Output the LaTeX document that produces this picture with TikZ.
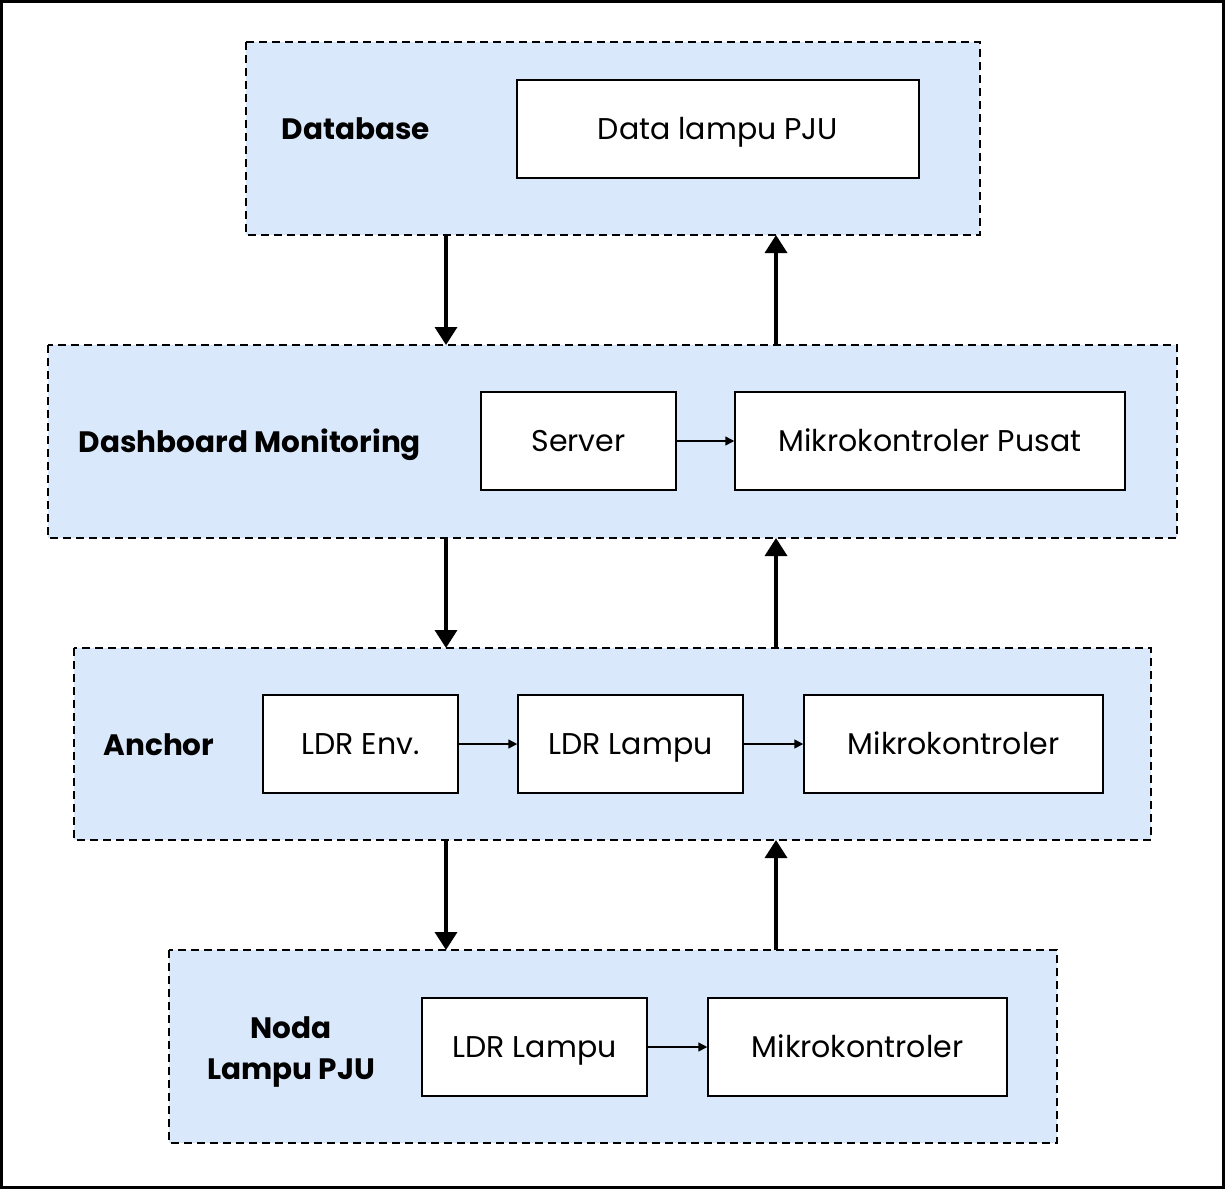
\documentclass[tikz,border=0pt]{standalone}
\usepackage{fontspec}
\setmainfont{Poppins}
\usetikzlibrary{arrows.meta}
\definecolor{groupfill}{HTML}{DAE8FC}
\tikzset{
  group/.style={draw=black, fill=groupfill, line width=1.5pt, dash pattern=on 8pt off 5pt},
  boxfont/.style={font=\fontsize{30}{34}\selectfont, text height=21pt, text depth=0pt},
  unit/.style={draw=black, fill=white, line width=1.5pt, boxfont},
  grouplabel/.style={font=\fontsize{29.5}{41}\selectfont\bfseries, align=center},
  capcentred/.style={text height=20.6pt, text depth=0pt},
  flow/.style={line width=3.5pt, -{Triangle[width=22pt,length=18pt]}},
  link/.style={line width=1.5pt, -{Triangle[width=9pt,length=9pt]}}
}
\begin{document}
\begin{tikzpicture}[x=1pt,y=-1pt]
\useasboundingbox (0,0) rectangle (1225,1189);
\draw[line width=3pt] (1.5,1.5) rectangle (1223.5,1187.5);

% Database layer
\path[group] (246,42) rectangle (980,235);
\coordinate (dbB1) at (446,235);
\coordinate (dbB2) at (776,235);
\node[grouplabel, capcentred] (dblabel) at (356,129) {Database};
\draw[unit] (517,80) rectangle (919,178);
\node[boxfont] (data) at (718,129) {Data lampu PJU};

% Dashboard layer
\path[group] (48,345) rectangle (1177,538);
\coordinate (dsT1) at (446,345);
\coordinate (dsT2) at (776,345);
\coordinate (dsB1) at (446,538);
\coordinate (dsB2) at (776,538);
\node[grouplabel, capcentred] (dslabel) at (250,442) {Dashboard Monitoring};
\node[unit, minimum width=195pt, minimum height=98pt] (server) at (578.5,441) {Server};
\node[unit, minimum width=390pt, minimum height=98pt] (mkpusat) at (930,441) {Mikrokontroler Pusat};
\draw[link] (server) -- (mkpusat);

% Anchor layer
\path[group] (74,648) rectangle (1151,840);
\coordinate (anT1) at (446,648);
\coordinate (anT2) at (776,648);
\coordinate (anB1) at (446,840);
\coordinate (anB2) at (776,840);
\node[grouplabel, capcentred] (anlabel) at (159,745) {Anchor};
\node[unit, minimum width=195pt, minimum height=98pt] (ldrenv) at (360.5,744) {LDR Env.};
\node[unit, minimum width=225pt, minimum height=98pt] (ldrlampuA) at (630.5,744) {LDR Lampu};
\node[unit, minimum width=299pt, minimum height=98pt] (mkA) at (953.5,744) {Mikrokontroler};
\draw[link] (ldrenv) -- (ldrlampuA);
\draw[link] (ldrlampuA) -- (mkA);

% Node layer
\path[group] (169,950) rectangle (1057,1143);
\coordinate (ndT1) at (446,950);
\coordinate (ndT2) at (776,950);
\node[grouplabel] (ndlabel) at (291,1052) {Noda\\Lampu PJU};
\node[unit, minimum width=225pt, minimum height=98pt] (ldrlampuN) at (534.5,1047) {LDR Lampu};
\node[unit, minimum width=299pt, minimum height=98pt] (mkN) at (857.5,1047) {Mikrokontroler};
\draw[link] (ldrlampuN) -- (mkN);

% Flows between layers
\draw[flow] (dbB1) -- (dsT1);
\draw[flow] (dsT2) -- (dbB2);
\draw[flow] (dsB1) -- (anT1);
\draw[flow] (anT2) -- (dsB2);
\draw[flow] (anB1) -- (ndT1);
\draw[flow] (ndT2) -- (anB2);
\end{tikzpicture}
\end{document}
